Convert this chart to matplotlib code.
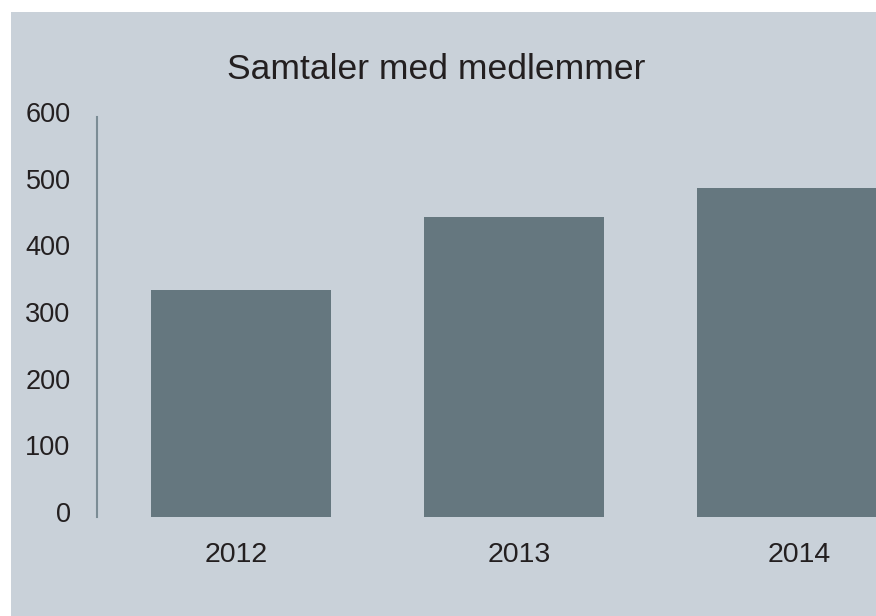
import matplotlib
matplotlib.use("Agg")
import matplotlib.pyplot as plt
from matplotlib.patches import Rectangle
from matplotlib.transforms import ScaledTranslation

years = ["2012", "2013", "2014"]
samtaler = [340, 450, 493]
yticks = [0, 100, 200, 300, 400, 500, 600]

BG = "#c9d1d9"
BAR = "#65777f"
TXT = "#231f20"

plt.rcParams["font.family"] = ["Liberation Sans", "DejaVu Sans"]

fig = plt.figure(figsize=(8.76, 6.16), dpi=100, facecolor="white")
# grey panel with a thin white margin on top and left
fig.patches.append(Rectangle((11 / 876, 0), 1, 1 - 12 / 616, transform=fig.transFigure,
                             facecolor=BG, edgecolor="none", zorder=-10))

ax = fig.add_axes([97 / 876, 99 / 616, 1 - 97 / 876, 400 / 616])
ax.patch.set_visible(False)

x = list(range(len(years)))
ax.bar(x, samtaler, width=0.66, color=BAR, edgecolor="none")

ax.set_xlim(-0.527, 2.326)
ax.set_ylim(0, 600)
ax.set_yticks(yticks)
ax.set_yticklabels([str(v) for v in yticks])
ax.set_xticks(x)
ax.set_xticklabels(years)

for s in ["top", "right", "bottom"]:
    ax.spines[s].set_visible(False)
ax.spines["left"].set_color("#7b8c95")
ax.spines["left"].set_linewidth(1.5)

ax.tick_params(axis="y", length=0, pad=19, labelsize=19.5, labelcolor=TXT)
ax.tick_params(axis="x", length=0, pad=18, labelsize=20.5, labelcolor=TXT)
off = ScaledTranslation(0, 5 / 100, fig.dpi_scale_trans)
for lab in ax.get_yticklabels():
    lab.set_transform(lab.get_transform() + off)
# the year labels sit slightly off the bar centres in the original
for lab, dx in zip(ax.get_xticklabels(), [-5, 5, 12]):
    lab.set_transform(lab.get_transform() + ScaledTranslation(dx / 100, 0, fig.dpi_scale_trans))

fig.text(436.5 / 876, 1 - 79 / 616, "Samtaler med medlemmer", ha="center",
         va="baseline", fontsize=25.5, color=TXT)

fig.savefig("out.png", dpi=100, facecolor="white")
